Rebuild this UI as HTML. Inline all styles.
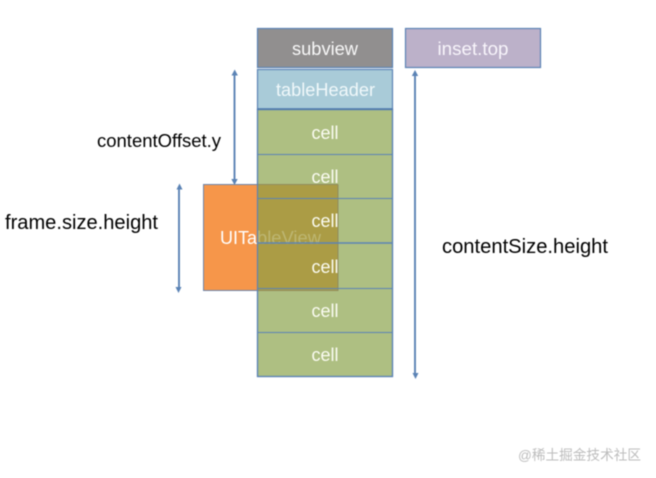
<!DOCTYPE html>
<html><head><meta charset="utf-8"><style>
html,body{margin:0;padding:0;background:#fff;width:656px;height:478px;overflow:hidden}
svg{display:block;filter:blur(.4px)}
text{font-family:"Liberation Sans","Noto Sans CJK SC",sans-serif}
</style></head><body>
<svg width="656" height="478" viewBox="0 0 656 478" xmlns="http://www.w3.org/2000/svg">
<rect width="656" height="478" fill="#fff"/>
<rect x="257.5" y="28.5" width="135" height="39" fill="#918f8f" stroke="#5b83b5" stroke-width="1.2"/>
<rect x="405.5" y="28.5" width="135" height="39" fill="#bcb1c9" stroke="#5b83b5" stroke-width="1.2"/>
<rect x="257.5" y="69.5" width="135" height="39.5" fill="#a9cbd8" stroke="#5b83b5" stroke-width="1.2"/>
<rect x="257.5" y="109.5" width="135" height="267" fill="#aebf82" stroke="#5b83b5" stroke-width="1.2"/>
<rect x="203.5" y="184.5" width="54" height="106" fill="#f6964a" stroke="#6b86ad" stroke-width="1"/>
<rect x="257.5" y="184.5" width="80" height="106" fill="#ab9c45"/>
<text x="220" y="244" font-size="18" fill="#fff" textLength="37" lengthAdjust="spacingAndGlyphs">UITa</text>
<text x="257" y="244" font-size="18" fill="#bdb672" textLength="64" lengthAdjust="spacingAndGlyphs">bleView</text>
<path d="M338 184.5V290.5H257.5M257.5 184.5H338" fill="none" stroke="#8f8c5e" stroke-width="1"/>
<g stroke="#5b83b5" stroke-width="1.1" fill="none">
<path d="M257 154.5H393M257 198.5H393M257 288.5H393M257 332.5H393"/>
<path d="M257 243H393" stroke-width="1.5"/>
<path d="M257.5 109.5V376.5H392.5V109.5Z" stroke-width="1.2"/>
</g>
<path d="M257 109H393" stroke="#4f78ad" stroke-width="1.5"/>
<g text-anchor="middle" fill="#fbfcf2" font-size="18">
<text x="325" y="55" fill="#f8f8f8" font-size="18" textLength="66" lengthAdjust="spacingAndGlyphs">subview</text>
<text x="473" y="55" fill="#f8f5fb" font-size="18.5" textLength="71" lengthAdjust="spacingAndGlyphs">inset.top</text>
<text x="325.5" y="96" fill="#f0f8fa" font-size="18.5" textLength="99" lengthAdjust="spacingAndGlyphs">tableHeader</text>
<text x="325" y="139">cell</text>
<text x="325" y="183">cell</text>
<text x="325" y="227">cell</text>
<text x="325" y="273">cell</text>
<text x="325" y="317">cell</text>
<text x="325" y="361">cell</text>
</g>
<g stroke="#5b83b5" stroke-width="1.9">
<line x1="234.5" y1="74" x2="234.5" y2="181"/>
<line x1="179" y1="188" x2="179" y2="289"/>
<line x1="415" y1="74" x2="415" y2="375"/>
</g>
<g fill="#5b83b5">
<path d="M234.7 69.5l3.200 6h-6.400z"/><path d="M234.5 185l3.200-6h-6.400z"/>
<path d="M179.5 183.5l3 6h-6z"/><path d="M178.5 293l3-6h-6z"/>
<path d="M415 70l3.200 6h-6.400z"/><path d="M415.5 379l3-6h-6z"/>
</g>
<g fill="#000">
<text x="97" y="147" font-size="18.3" textLength="124" lengthAdjust="spacingAndGlyphs">contentOffset.y</text>
<text x="5" y="229" font-size="20.1" textLength="153" lengthAdjust="spacingAndGlyphs">frame.size.height</text>
<text x="442" y="253" font-size="20.2" textLength="166" lengthAdjust="spacingAndGlyphs">contentSize.height</text>
</g>
<text x="518" y="460" font-size="14" fill="#bdbdbd" textLength="123" lengthAdjust="spacingAndGlyphs">@稀土掘金技术社区</text>
</svg>
</body></html>
